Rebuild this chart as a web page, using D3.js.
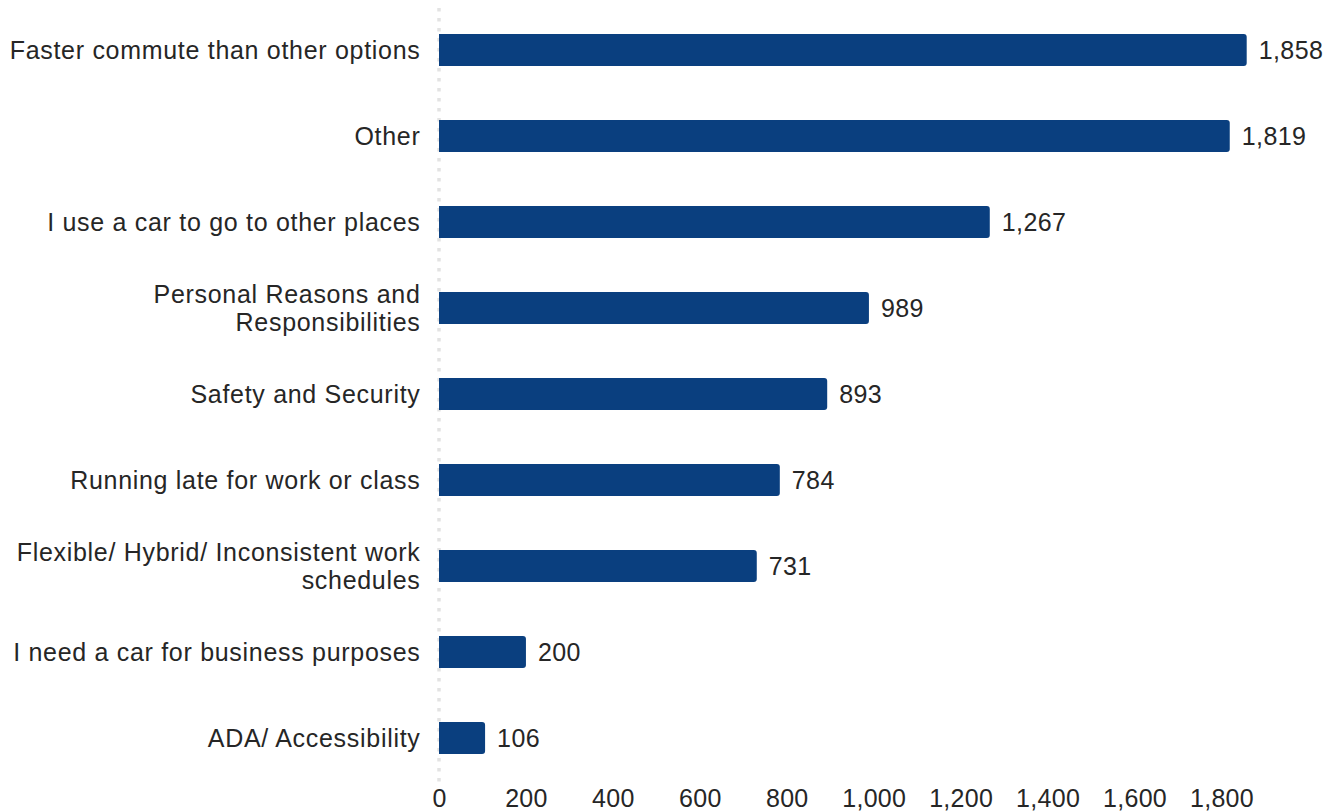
<!DOCTYPE html>
<html><head><meta charset="utf-8">
<script src="https://cdn.jsdelivr.net/npm/d3@7"></script>
<style>body{margin:0;background:#fff}svg{display:block}text{font-family:"Liberation Sans",Arial,sans-serif;fill:#262626}</style>
</head><body><svg id="c" width="1338" height="812"></svg>
<script>
const categories = [
  ["Faster commute than other options"],
  ["Other"],
  ["I use a car to go to other places"],
  ["Personal Reasons and", "Responsibilities"],
  ["Safety and Security"],
  ["Running late for work or class"],
  ["Flexible/ Hybrid/ Inconsistent work", "schedules"],
  ["I need a car for business purposes"],
  ["ADA/ Accessibility"]
];
const values = [1858, 1819, 1267, 989, 893, 784, 731, 200, 106];
const tickValues = [0, 200, 400, 600, 800, 1000, 1200, 1400, 1600, 1800];

const svg = d3.select("#c");
const x0 = 439, fontSize = 25;
const x = d3.scaleLinear().domain([0, 1858]).range([x0, 1246.7]);
const y = d3.scaleBand().domain(d3.range(categories.length)).range([7, 781]).paddingInner(0.628).paddingOuter(0.314);
const fmt = d3.format(",");

// dotted axis line
svg.append("line").attr("x1", x0).attr("x2", x0).attr("y1", 8).attr("y2", 783)
  .attr("stroke", "#e3e3e3").attr("stroke-width", 3.5).attr("stroke-dasharray", "3.5,6.5");

const r = 3;
svg.selectAll("path.bar").data(values).join("path").attr("class", "bar")
  .attr("fill", "#0a3f7f")
  .attr("d", (d, i) => {
    const x1 = x(0), x2 = x(d), y1 = y(i), h = y.bandwidth();
    return `M${x1},${y1}H${x2 - r}Q${x2},${y1} ${x2},${y1 + r}V${y1 + h - r}Q${x2},${y1 + h} ${x2 - r},${y1 + h}H${x1}Z`;
  });

svg.selectAll("text.val").data(values).join("text").attr("class", "val")
  .attr("x", d => x(d) + 12).attr("y", (d, i) => y(i) + y.bandwidth() / 2)
  .attr("dy", "0.35em").attr("font-size", fontSize).attr("letter-spacing", "0.4px").text(d => fmt(d));

const lh = 27.5;
categories.forEach((lines, i) => {
  const cy = y(i) + y.bandwidth() / 2;
  const t = svg.append("text").attr("text-anchor", "end").attr("font-size", fontSize).attr("letter-spacing", "0.7px");
  lines.forEach((ln, k) => {
    t.append("tspan").attr("x", 420.5)
      .attr("y", cy + (k - (lines.length - 1) / 2) * lh).attr("dy", "0.35em").text(ln);
  });
});

const axis = d3.axisBottom(x).tickValues(tickValues).tickFormat(fmt).tickSize(0).tickPadding(0);
const g = svg.append("g").attr("transform", "translate(0,789)").call(axis);
g.select(".domain").remove();
g.selectAll("text").attr("font-size", fontSize).attr("font-family", '"Liberation Sans",Arial,sans-serif').attr("fill", "#262626").attr("letter-spacing", "0.3px").attr("dy", "0.71em");
</script></body></html>
